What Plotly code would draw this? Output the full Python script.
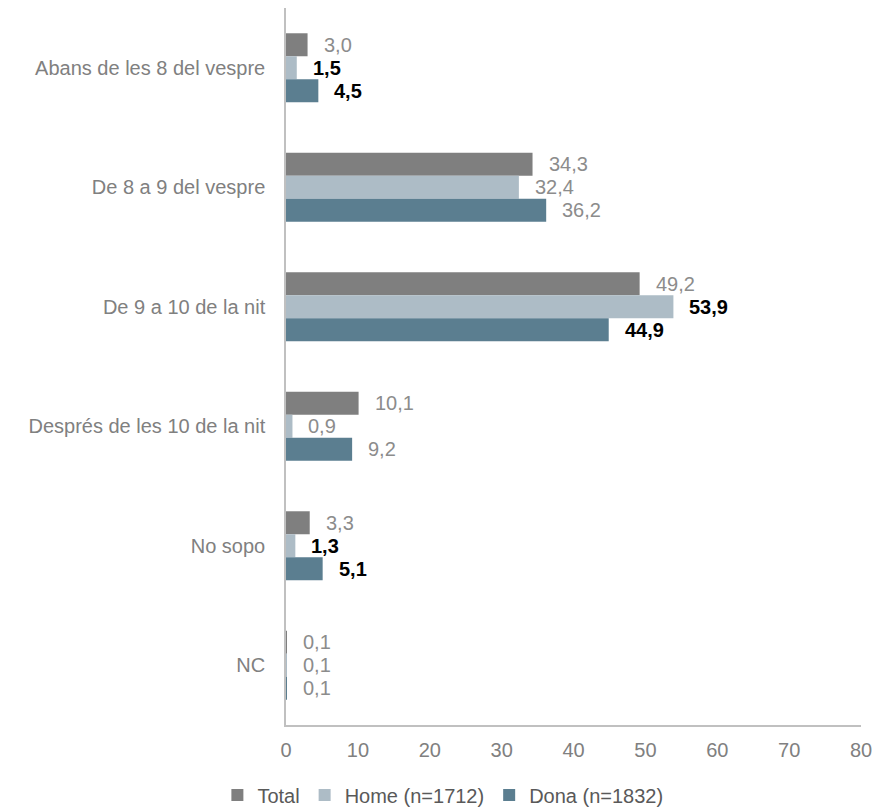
import plotly.graph_objects as go

categories = ["Abans de les 8 del vespre", "De 8 a 9 del vespre", "De 9 a 10 de la nit",
              "Després de les 10 de la nit", "No sopo", "NC"]
series_names = ["Total", "Home (n=1712)", "Dona (n=1832)"]
total = [3.0, 34.3, 49.2, 10.1, 3.3, 0.1]
home = [1.5, 32.4, 53.9, 0.9, 1.3, 0.1]
dona = [4.5, 36.2, 44.9, 9.2, 5.1, 0.1]
home_bold = [True, False, True, False, True, False]
dona_bold = [True, False, True, False, True, False]
total_bold = [False] * 6
x_ticks = [0, 10, 20, 30, 40, 50, 60, 70, 80]

colors = ["#7f7f7f", "#adbcc6", "#5b7e90"]
FONT = "Arial, Liberation Sans, sans-serif"
positions = list(range(len(categories)))
bargap = 0.423
bar_w = (1 - bargap) / 3

fig = go.Figure()
all_series = [total, home, dona]
all_bold = [total_bold, home_bold, dona_bold]
for k, (name, vals) in enumerate(zip(series_names, all_series)):
    fig.add_trace(go.Bar(
        y=positions, x=vals, orientation="h", name=name,
        marker=dict(color=colors[k], line=dict(width=0)),
    ))

annotations = []
for k, (vals, bold) in enumerate(zip(all_series, all_bold)):
    for i, v in enumerate(vals):
        txt = f"{v:.1f}".replace(".", ",")
        if bold[i]:
            txt = f"<b>{txt}</b>"
        annotations.append(dict(
            x=v, y=i + (k - 1) * bar_w, xref="x", yref="y",
            text=txt, showarrow=False, xanchor="left", yanchor="middle",
            xshift=14,
            font=dict(family=FONT, size=20, color="#000000" if bold[i] else "#8c8c8c"),
        ))

fig.update_layout(
    width=877, height=812, autosize=False,
    margin=dict(l=286, r=16, t=8, b=87, autoexpand=False),
    plot_bgcolor="white", paper_bgcolor="white",
    barmode="group", bargap=bargap, bargroupgap=0,
    font=dict(family=FONT, size=20, color="#808080"),
    annotations=annotations,
    showlegend=True,
    legend=dict(orientation="h", xref="container", yref="container",
                x=0.505, xanchor="center", y=0.021, yanchor="middle",
                font=dict(family=FONT, size=20, color="#595959"),
                traceorder="normal"),
)
fig.update_xaxes(range=[0, 80], tickvals=x_ticks, showgrid=False, zeroline=False,
                 showline=True, linecolor="#c0c0c0", linewidth=1.5,
                 ticks="", ticklabelstandoff=6,
                 tickfont=dict(family=FONT, size=20, color="#808080"))
fig.update_yaxes(range=[5.5, -0.5], tickvals=positions, ticktext=categories,
                 showgrid=False, zeroline=False, showline=True,
                 linecolor="#c0c0c0", linewidth=1.5, ticks="", ticklabelstandoff=15,
                 tickfont=dict(family=FONT, size=20, color="#808080"))

fig.write_html("out.html", config={"displayModeBar": False},
               post_script="document.body.style.margin='0';document.body.style.overflow='hidden';")
